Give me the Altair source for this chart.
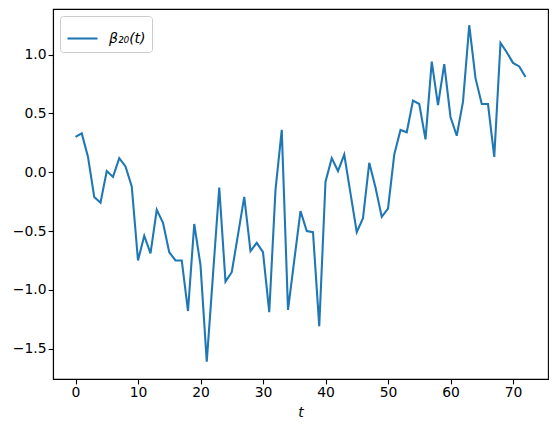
import altair as alt
import pandas as pd

t_values = list(range(73))
beta_values = [
    0.30, 0.33, 0.13, -0.21, -0.26, 0.01, -0.04, 0.12, 0.05, -0.12,
    -0.75, -0.54, -0.69, -0.32, -0.43, -0.68, -0.75, -0.75, -1.18, -0.44,
    -0.79, -1.61, -0.87, -0.13, -0.93, -0.85, -0.53, -0.21, -0.67, -0.60,
    -0.68, -1.19, -0.15, 0.36, -1.17, -0.75, -0.33, -0.50, -0.51, -1.31,
    -0.08, 0.12, 0.01, 0.15, -0.18, -0.51, -0.39, 0.08, -0.13, -0.38,
    -0.31, 0.15, 0.36, 0.34, 0.61, 0.58, 0.28, 0.94, 0.57, 0.92,
    0.47, 0.31, 0.60, 1.25, 0.80, 0.58, 0.58, 0.13, 1.10, 1.02,
    0.93, 0.90, 0.81,
]
series_name = "β₂₀(t)"
x_ticks = [0, 10, 20, 30, 40, 50, 60, 70]
y_ticks = [-1.5, -1.0, -0.5, 0.0, 0.5, 1.0]

df = pd.DataFrame({"t": t_values, "beta": beta_values, "series": series_name})

FONT = "DejaVu Sans"

chart = (
    alt.Chart(df)
    .mark_line(strokeWidth=2.08)
    .encode(
        x=alt.X(
            "t:Q",
            scale=alt.Scale(domain=[-3.6, 75.6], nice=False, zero=False),
            axis=alt.Axis(values=x_ticks, format="d", title="t", titleFontStyle="italic",
                          titleFontWeight="normal", titlePadding=6),
        ),
        y=alt.Y(
            "beta:Q",
            scale=alt.Scale(domain=[-1.758, 1.388], nice=False, zero=False),
            axis=alt.Axis(values=y_ticks, format=".1f", title=None),
        ),
        color=alt.Color(
            "series:N",
            scale=alt.Scale(range=["#1f77b4"]),
            legend=alt.Legend(
                title=None,
                orient="none",
                legendX=7,
                legendY=7,
                symbolType="stroke",
                symbolSize=900,
                symbolStrokeWidth=2.08,
                labelFont=FONT,
                labelFontSize=14,
                labelFontStyle="italic",
                labelColor="black",
                labelOffset=10,
                strokeColor="#cccccc",
                fillColor="white",
                cornerRadius=3,
                padding=6,
            ),
        ),
    )
    .properties(width=495, height=370, autosize="none",
                padding={"left": 45, "top": 1, "right": 3, "bottom": 45})
    .configure_view(stroke="black", strokeWidth=1.1)
    .configure_axis(
        grid=False,
        domainColor="black",
        domainWidth=1.1,
        tickColor="black",
        tickWidth=1.1,
        tickSize=4.9,
        labelFont=FONT,
        labelFontSize=13.9,
        labelColor="black",
        labelPadding=2,
        titleFont=FONT,
        titleFontSize=13.9,
        titleColor="black",
    )
)

chart.save("out.html", embed_options={"renderer": "svg", "actions": False})
